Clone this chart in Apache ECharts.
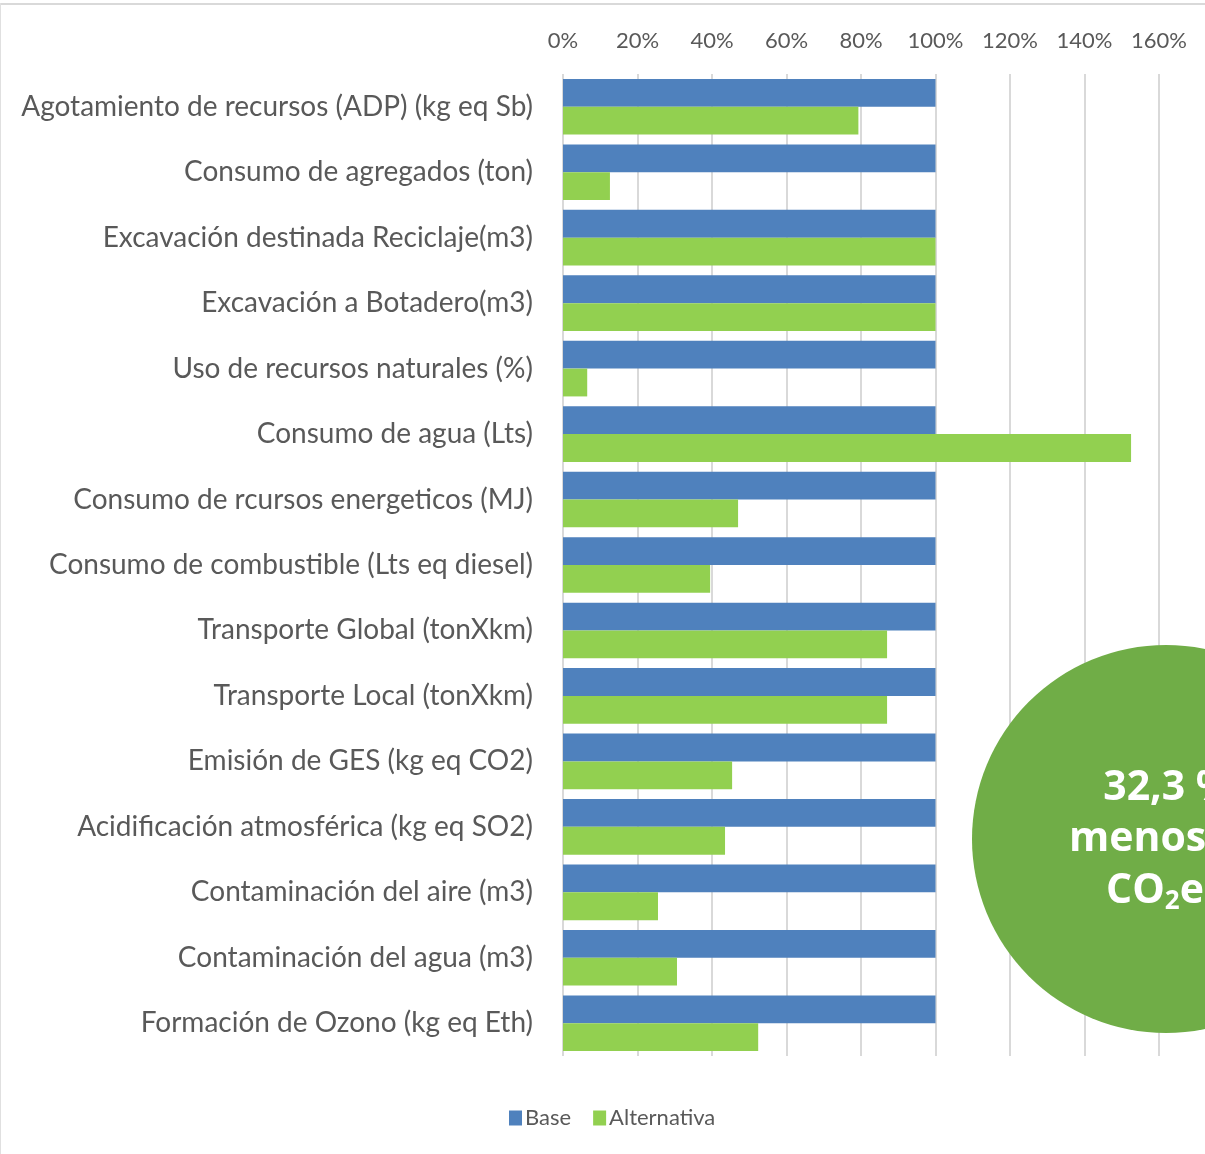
<!DOCTYPE html>
<html><head><meta charset="utf-8">
<script src="https://cdn.jsdelivr.net/npm/echarts@6/dist/echarts.min.js"></script>
<style>html,body{margin:0;padding:0;background:#fff}#c{width:1205px;height:1154px}</style>
</head><body><div id="c"></div>
<script>
const categories = [
  'Agotamiento de recursos (ADP) (kg eq Sb)',
  'Consumo de agregados (ton)',
  'Excavación destinada Reciclaje(m3)',
  'Excavación a Botadero(m3)',
  'Uso de recursos naturales (%)',
  'Consumo de agua (Lts)',
  'Consumo de rcursos energeticos (MJ)',
  'Consumo de combustible (Lts eq diesel)',
  'Transporte Global (tonXkm)',
  'Transporte Local (tonXkm)',
  'Emisión de GES (kg eq CO2)',
  'Acidificación atmosférica (kg eq SO2)',
  'Contaminación del aire (m3)',
  'Contaminación del agua (m3)',
  'Formación de Ozono (kg eq Eth)'
];
const baseValues = [100,100,100,100,100,100,100,100,100,100,100,100,100,100,100];
const altValues = [79.3,12.6,100,100,6.5,152.5,47,39.5,87,87,45.4,43.5,25.5,30.6,52.4];
const seriesNames = ['Base','Alternativa'];
const calloutLines = ['32,3 %','menos de','CO₂eq'];

const font = 'Lato, "Liberation Sans", sans-serif';
const chart = echarts.init(document.getElementById('c'));
chart.setOption({
  animation: false,
  backgroundColor: '#fff',
  textStyle: {fontFamily: font},
  grid: {left: 563, right: 46, top: 74, bottom: 98, containLabel: false, outerBoundsMode: 'none'},
  legend: {
    data: seriesNames, left: 504, top: 1102, icon: 'rect', itemWidth: 13, itemHeight: 15, itemGap: 22,
    textStyle: {fontFamily: font, fontSize: 22, color: '#595959', padding: [0,0,0,-2]}
  },
  xAxis: {
    type: 'value', position: 'top', min: 0, max: 160, interval: 20,
    axisLine: {show: false}, axisTick: {show: false},
    axisLabel: {formatter: '{value}%', fontSize: 22, color: '#595959', margin: 22, fontFamily: font},
    splitLine: {lineStyle: {color: '#d9d9d9', width: 2}}
  },
  yAxis: {
    type: 'category', data: categories, inverse: true,
    axisLine: {show: false}, axisTick: {show: false},
    axisLabel: {fontSize: 28, color: '#595959', margin: 30, fontFamily: font}
  },
  series: [
    {name: seriesNames[0], type: 'bar', data: baseValues, barGap: '0%', barCategoryGap: '15%',
     itemStyle: {color: '#4f81bd'}, z: 2},
    {name: seriesNames[1], type: 'bar', data: altValues, barGap: '0%', barCategoryGap: '15%',
     itemStyle: {color: '#92d050'}, z: 2}
  ],
  graphic: [
    {type: 'rect', left: 0, top: 3, shape: {width: 1205, height: 2}, style: {fill: '#d9d9d9'}, z: 0},
    {type: 'rect', left: 0, top: 3, shape: {width: 1, height: 1151}, style: {fill: '#e0e0e0'}, z: 0},
    {type: 'circle', shape: {cx: 1166, cy: 839, r: 194}, style: {fill: '#70ad47'}, z: 100},
    {type: 'text', x: 1168, y: 788, z: 101,
     style: {text: calloutLines[0], fill: '#fff', font: 'bold 41px "Open Sans", sans-serif', align: 'center', verticalAlign: 'middle'}},
    {type: 'text', x: 1168, y: 839, z: 101,
     style: {text: calloutLines[1], fill: '#fff', font: 'bold 41px "Open Sans", sans-serif', align: 'center', verticalAlign: 'middle'}},
    {type: 'text', x: 1168, y: 891, z: 101,
     style: {text: '{a|CO}{b|2}{a|eq}', align: 'center', verticalAlign: 'middle',
       rich: {a: {fill: '#fff', color: '#fff', fontSize: 41, fontWeight: 'bold', fontFamily: '"Open Sans", sans-serif'},
              b: {fill: '#fff', color: '#fff', fontSize: 26, fontWeight: 'bold', fontFamily: '"Open Sans", sans-serif', padding: [22,0,0,0]}}}}
  ]
});
</script></body></html>
